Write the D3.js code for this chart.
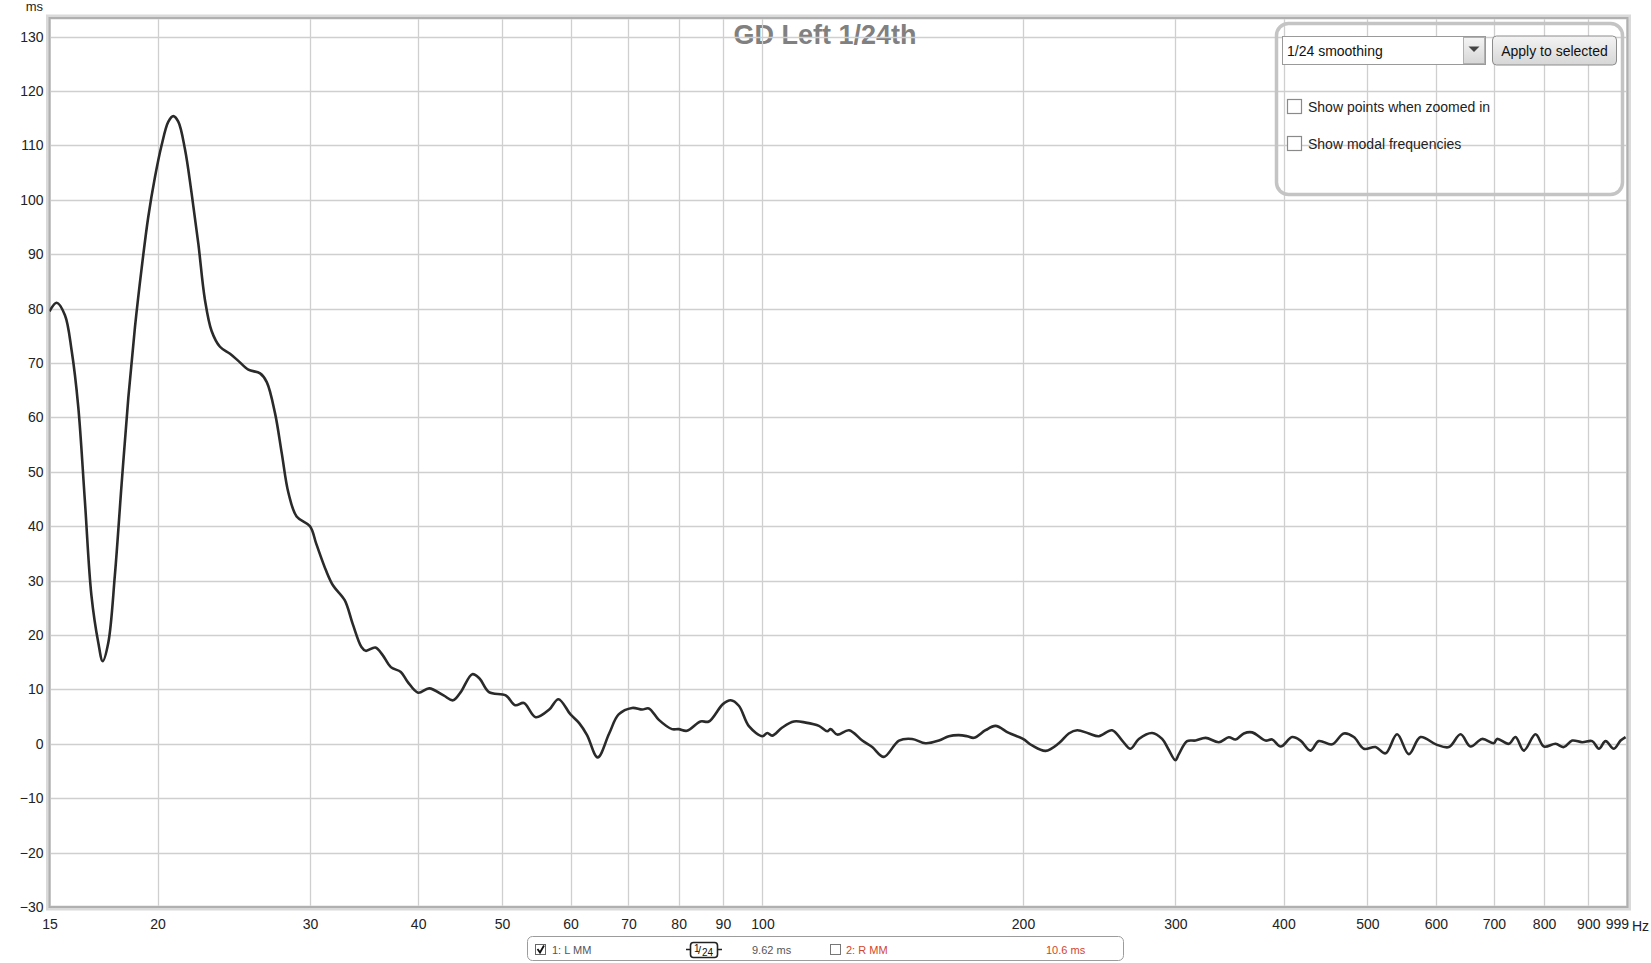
<!DOCTYPE html>
<html>
<head>
<meta charset="utf-8">
<script src="https://cdn.jsdelivr.net/npm/d3@7"></script>
<style>
  html, body { margin: 0; padding: 0; background: #fff; }
  svg { display: block; font-family: "Liberation Sans", Arial, sans-serif; }
</style>
</head>
<body>
<svg id="chart" width="1651" height="963"></svg>
<script>
// ---- data ----
const title = "GD Left 1/24th";
const yUnit = "ms";
const xUnit = "Hz";
const xTickValues = [15, 20, 30, 40, 50, 60, 70, 80, 90, 100, 200, 300, 400, 500, 600, 700, 800, 900, 999];
const yTickValues = [-30, -20, -10, 0, 10, 20, 30, 40, 50, 60, 70, 80, 90, 100, 110, 120, 130];
const freqs = [
  15.0, 15.29, 15.63, 15.91, 16.19, 16.48, 16.77, 17.08, 17.28, 17.54, 17.85, 18.17, 18.5, 18.83, 19.17, 19.51, 19.86,
  20.21, 20.58, 20.85, 21.13, 21.51, 21.89, 22.29, 22.68, 23.09, 23.61, 24.25, 24.79, 25.46, 26.27, 26.74, 27.34,
  27.83, 28.32, 28.95, 30.0, 30.5, 31.3, 31.9, 32.9, 33.6, 34.4, 34.8, 35.7, 36.4, 37.2, 38.2, 38.9, 40.0, 41.2,
  42.8, 43.9, 44.8, 46.2, 47.1, 48.3, 50.5, 51.8, 53.0, 54.7, 56.7, 58.1, 60.0, 61.4, 62.7, 64.5, 66.5, 68.2,
  70.7, 72.6, 73.9, 75.9, 78.6, 80.0, 81.8, 84.8, 86.7, 90.0, 91.9, 93.9, 96.5, 100.0, 101.3, 102.6, 105.4, 108.7,
  112.2, 116.2, 118.8, 119.9, 122.0, 125.9, 130.4, 133.9, 138.1, 143.8, 148.9, 154.3, 159.9, 164.2, 168.6, 172.4,
  175.5, 181.0, 185.9, 192.6, 200, 204.9, 212.4, 220.0, 225.9, 231.0, 238.3, 244.7, 253.5, 260.4, 266.2, 272.2,
  282.0, 289.6, 294.5, 300, 302.8, 309.5, 316.5, 325.1, 336.8, 345.8, 352.1, 359.9, 368.0, 381.3, 388.1, 397,
  409.3, 418.5, 429.8, 439.4, 455.2, 469.6, 482.3, 495.3, 511.0, 524.7, 541.2, 558.3, 575.9, 600, 621.1, 640.7,
  658.0, 678.6, 700, 706.1, 728.5, 741.6, 758.1, 782.1, 800, 825.0, 843.4, 862.3, 885.5, 909.4, 925.8, 942.4,
  963.4, 980.8, 993.9
];
const groupDelay = [
  79.5, 81.1, 78.8, 72.3, 62.1, 44.7, 27.3, 18.6, 15.2, 18.6, 31.0, 47.6, 63.6, 76.6, 87.5, 96.9, 104.2,
  110.0, 114.4, 115.4, 114.4, 109.3, 101.3, 91.9, 81.7, 75.9, 73.0, 71.7, 70.4, 68.8, 68.1, 66.5, 60.7,
  53.4, 46.2, 41.8, 40.0, 36.8, 31.9, 29.1, 26.4, 22.1, 17.8, 17.1, 17.7, 16.3, 14.1, 13.2, 11.4, 9.4, 10.2,
  8.9, 8.0, 9.5, 12.8, 12.0, 9.5, 8.9, 7.1, 7.5, 4.9, 6.3, 8.2, 5.4, 3.8, 1.6, -2.5, 1.9, 5.4,
  6.6, 6.3, 6.5, 4.4, 2.7, 2.7, 2.4, 4.1, 4.1, 7.3, 8.0, 7.0, 3.2, 1.4, 2.0, 1.5, 3.0, 4.1,
  3.9, 3.3, 2.3, 2.7, 1.7, 2.5, 0.6, -0.6, -2.4, 0.6, 0.9, 0.1, 0.6, 1.4, 1.6, 1.4,
  1.1, 2.5, 3.3, 2.0, 0.9, -0.3, -1.3, 0.1, 1.9, 2.5, 1.9, 1.4, 2.5, 0.6, -0.9, 0.9,
  2.0, 0.9, -1.0, -3.0, -1.9, 0.5, 0.6, 1.1, 0.3, 1.2, 0.8, 1.9, 2.1, 0.6, 0.8, -0.5,
  1.25, 0.6, -1.25, 0.5, -0.1, 1.9, 1.25, -0.9, -0.6, -1.75, 1.75, -1.9, 1.25, -0.1, -0.6, 1.75,
  -0.5, 0.9, 0.1, 0.9, 0, 1.25, -1.25, 1.75, -0.5, 0, -0.6, 0.6, 0.3, 0.5, -0.9, 0.5,
  -0.9, 0.6, 1.25
];
const panelDropdown = "1/24 smoothing";
const panelButton = "Apply to selected";
const panelChecks = ["Show points when zoomed in", "Show modal frequencies"];
const legendItems = ["1: L MM", "9.62 ms", "2: R MM", "10.6 ms"];

// ---- layout ----
const svg = d3.select("#chart");
const L = 49.5, R = 1627.5, T = 18, B = 907;
const x = d3.scaleLog().domain([15, 999]).range([L, R]);
const y = d3.scaleLinear().domain([-30, 130]).range([B, 36.7]);

// title (under grid)
svg.append("text").attr("x", 825).attr("y", 44).attr("text-anchor", "middle")
  .attr("font-size", 27).attr("font-weight", "bold").attr("fill", "#808080").text(title);

// grid
const grid = svg.append("g").attr("stroke", "#cfcfcf").attr("stroke-width", 1.3);
grid.selectAll("line.v").data(xTickValues.filter(d => d !== 15 && d !== 999)).join("line")
  .attr("x1", d => Math.round(x(d)) + 0.5).attr("x2", d => Math.round(x(d)) + 0.5)
  .attr("y1", T).attr("y2", B);
grid.selectAll("line.h").data(yTickValues.filter(d => d !== -30)).join("line")
  .attr("y1", d => Math.round(y(d)) + 0.5).attr("y2", d => Math.round(y(d)) + 0.5)
  .attr("x1", L).attr("x2", R);

// frame
svg.append("rect").attr("x", L - 1).attr("y", T - 1).attr("width", R - L + 2).attr("height", B - T + 2)
  .attr("fill", "none").attr("stroke", "#dadada").attr("stroke-width", 5);
svg.append("rect").attr("x", L).attr("y", T).attr("width", R - L).attr("height", B - T)
  .attr("fill", "none").attr("stroke", "#b0b0b0").attr("stroke-width", 2);

// axes
const yAxis = svg.append("g").attr("transform", `translate(${L},0)`)
  .call(d3.axisLeft(y).tickValues(yTickValues).tickSize(0).tickPadding(6).tickFormat(d3.format("d")));
yAxis.select(".domain").remove();
yAxis.selectAll("text").attr("font-size", 14).attr("fill", "#222").attr("font-family", "Liberation Sans, Arial, sans-serif");

const xAxis = svg.append("g").attr("transform", `translate(0,${B})`)
  .call(d3.axisBottom(x).tickValues(xTickValues).tickSize(0).tickPadding(12).tickFormat(d3.format("d")));
xAxis.select(".domain").remove();
xAxis.selectAll("text").attr("font-size", 14).attr("fill", "#222").attr("font-family", "Liberation Sans, Arial, sans-serif");
xAxis.selectAll("text").filter(d => d === 999).attr("text-anchor", "end").attr("dx", 1);

svg.append("text").attr("x", 43).attr("y", 11).attr("text-anchor", "end").attr("font-size", 13).attr("fill", "#222").text(yUnit);
svg.append("text").attr("x", 1632).attr("y", 931).attr("font-size", 14).attr("fill", "#222").text(xUnit);

// curve
svg.append("clipPath").attr("id", "clip").append("rect").attr("x", L).attr("y", T).attr("width", R - L).attr("height", B - T);
const pts = freqs.map((f, i) => [f, groupDelay[i]]);
svg.append("path").datum(pts).attr("clip-path", "url(#clip)")
  .attr("fill", "none").attr("stroke", "#2a2a2a").attr("stroke-width", 2.6).attr("stroke-linejoin", "round")
  .attr("d", d3.line().x(d => x(d[0])).y(d => y(d[1])).curve(d3.curveCatmullRom.alpha(0.5)));

// control panel
const p = svg.append("g");
p.append("rect").attr("x", 1276.5).attr("y", 23.5).attr("width", 346).attr("height", 171).attr("rx", 12)
  .attr("fill", "none").attr("stroke", "#c4c4c4").attr("stroke-width", 3.5);
const grad = svg.append("defs").append("linearGradient").attr("id", "btn").attr("x1", 0).attr("x2", 0).attr("y1", 0).attr("y2", 1);
grad.append("stop").attr("offset", "0%").attr("stop-color", "#f4f4f4");
grad.append("stop").attr("offset", "100%").attr("stop-color", "#d6d6d6");
p.append("rect").attr("x", 1282.5).attr("y", 36.5).attr("width", 203).attr("height", 28).attr("fill", "#fff").attr("stroke", "#9a9a9a");
p.append("rect").attr("x", 1463.5).attr("y", 37.5).attr("width", 21).attr("height", 26).attr("fill", "url(#btn)").attr("stroke", "#b0b0b0");
p.append("path").attr("d", "M1468.5,46.5 L1479.5,46.5 L1474,52 Z").attr("fill", "#444");
p.append("text").attr("x", 1287).attr("y", 55.5).attr("font-size", 14).attr("fill", "#111").text(panelDropdown);
p.append("rect").attr("x", 1492.5).attr("y", 36).attr("width", 124).attr("height", 29).attr("rx", 4)
  .attr("fill", "url(#btn)").attr("stroke", "#8c8c8c");
p.append("text").attr("x", 1554.5).attr("y", 55.5).attr("text-anchor", "middle").attr("font-size", 14).attr("fill", "#111").text(panelButton);
const checkY = [99, 136];
panelChecks.forEach((t, i) => {
  p.append("rect").attr("x", 1287.5).attr("y", checkY[i] + 0.5).attr("width", 14).attr("height", 14)
    .attr("fill", "#fff").attr("stroke", "#8a8a8a").attr("stroke-width", 1.2);
  p.append("text").attr("x", 1308).attr("y", checkY[i] + 12.5).attr("font-size", 14).attr("fill", "#222").text(t);
});

// bottom legend
const lg = svg.append("g").attr("font-size", 11);
lg.append("rect").attr("x", 527.5).attr("y", 936.5).attr("width", 596).attr("height", 24).attr("rx", 5)
  .attr("fill", "#fff").attr("stroke", "#9c9c9c");
lg.append("rect").attr("x", 535.5).attr("y", 944.5).attr("width", 10).attr("height", 10).attr("fill", "#fff").attr("stroke", "#666");
lg.append("path").attr("d", "M537.5,949 L540,952.5 L544,945.5").attr("fill", "none").attr("stroke", "#111").attr("stroke-width", 1.8);
lg.append("text").attr("x", 552).attr("y", 953.5).attr("fill", "#555").text(legendItems[0]);
lg.append("line").attr("x1", 686).attr("x2", 722).attr("y1", 949.5).attr("y2", 949.5).attr("stroke", "#222").attr("stroke-width", 1.3);
lg.append("rect").attr("x", 690.5).attr("y", 942.5).attr("width", 27).attr("height", 15).attr("rx", 3)
  .attr("fill", "#fff").attr("stroke", "#222").attr("stroke-width", 1.6);
lg.append("text").attr("x", 694).attr("y", 952).attr("font-size", 10).attr("fill", "#111").text("1");
lg.append("text").attr("x", 698).attr("y", 954).attr("font-size", 11).attr("fill", "#111").text("/");
lg.append("text").attr("x", 702).attr("y", 956).attr("font-size", 10).attr("fill", "#111").text("24");
lg.append("text").attr("x", 752).attr("y", 953.5).attr("fill", "#555").text(legendItems[1]);
lg.append("rect").attr("x", 830.5).attr("y", 944.5).attr("width", 10).attr("height", 10).attr("fill", "#fff").attr("stroke", "#777");
lg.append("text").attr("x", 846).attr("y", 953.5).attr("fill", "#d2452a").text(legendItems[2]);
lg.append("text").attr("x", 1046).attr("y", 953.5).attr("fill", "#d2452a").text(legendItems[3]);
</script>
</body>
</html>
